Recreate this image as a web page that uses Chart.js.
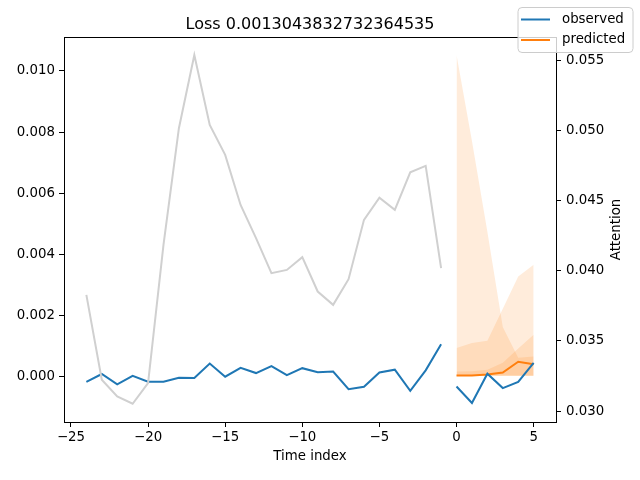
<!DOCTYPE html>
<html>
<head>
<meta charset="utf-8">
<script src="https://cdn.jsdelivr.net/npm/chart.js@4/dist/chart.umd.min.js"></script>
<style>
  html, body { margin: 0; padding: 0; background: #fff; }
  #wrap { width: 640px; height: 480px; }
</style>
</head>
<body>
<div id="wrap"><canvas id="grafica" width="640" height="480"></canvas></div>
<script>
// history window (encoder) and forecast window (decoder)
var timeHist = [-24, -23, -22, -21, -20, -19, -18, -17, -16, -15, -14, -13,
                -12, -11, -10, -9, -8, -7, -6, -5, -4, -3, -2, -1];
var timePred = [0, 1, 2, 3, 4, 5];

var observedHist = [-0.00017, 0.00009, -0.00025, 0.00003, -0.00016, -0.00016,
                    -0.00003, -0.00004, 0.00043, 0.00000, 0.00029, 0.00012,
                    0.00035, 0.00005, 0.00028, 0.00015, 0.00017, -0.00041,
                    -0.00033, 0.00014, 0.00023, -0.00046, 0.00021, 0.00106];
var observedPred = [-0.00032, -0.00086, 0.00010, -0.00037, -0.00017, 0.00045];
var predicted = [0.00004, 0.00004, 0.00007, 0.00014, 0.00049, 0.00041];

// quantile bands (low / high)
var q02 = [0.00003, 0.00003, 0.00003, 0.00003, 0.00003, 0.00003];
var q98 = [0.01052, 0.00771, 0.00474, 0.00163, 0.00062, 0.00066];
var q10 = [0.00003, 0.00003, 0.00003, 0.00003, 0.00003, 0.00003];
var q90 = [0.00094, 0.00110, 0.00118, 0.00222, 0.00328, 0.00366];
var q25 = [0.00003, 0.00003, 0.00003, 0.00003, 0.00003, 0.00003];
var q75 = [0.00017, 0.00018, 0.00023, 0.00046, 0.00092, 0.00137];

var attention = [0.03828, 0.03223, 0.03104, 0.03052, 0.03199, 0.04185,
                 0.05016, 0.05538, 0.05039, 0.04826, 0.04469, 0.04233,
                 0.03983, 0.04006, 0.04097, 0.03852, 0.03757, 0.03940,
                 0.04363, 0.04521, 0.04434, 0.04702, 0.04747, 0.04019];

var xTicks = [-25, -20, -15, -10, -5, 0, 5];
var yTicks = [0.000, 0.002, 0.004, 0.006, 0.008, 0.010];
var y1Ticks = [0.030, 0.035, 0.040, 0.045, 0.050, 0.055];

var titulo = 'Loss 0.0013043832732364535';
var legendLabels = ['observed', 'predicted'];

var AZUL = '#1f77b4';
var NARANJA = '#ff7f0e';
var BANDA = 'rgba(255,127,14,0.15)';
var FONT = 'DejaVu Sans';

var puntos = function (xs, ys) {
    return xs.map(function (x, i) { return {x: x, y: ys[i]}; });
};
var linea = function (label, data, color, eje) {
    return {
        label: label, data: data, borderColor: color, backgroundColor: color,
        borderWidth: 2, pointRadius: 0, fill: false, tension: 0, yAxisID: eje
    };
};
var banda = function (data, fill) {
    return {
        label: '', data: data, borderWidth: 0, borderColor: 'rgba(0,0,0,0)',
        backgroundColor: BANDA, pointRadius: 0, fill: fill, yAxisID: 'y'
    };
};
var fijarTicks = function (valores) {
    return function (scale) {
        scale.ticks = valores.map(function (v) { return {value: v}; });
    };
};
var menos = function (v) { return String(v).replace('-', '\u2212'); };

var extras = {
    id: 'extras',
    afterDraw: function (chart) {
        var ctx = chart.ctx;
        var a = chart.chartArea;
        ctx.save();
        // spines
        ctx.strokeStyle = '#000';
        ctx.lineWidth = 1;
        ctx.strokeRect(Math.round(a.left) + 0.5, Math.round(a.top) + 0.5,
                       Math.round(a.right - a.left), Math.round(a.bottom - a.top));
        // title
        ctx.fillStyle = '#000';
        ctx.font = '16px "' + FONT + '"';
        ctx.textAlign = 'center';
        ctx.textBaseline = 'alphabetic';
        ctx.fillText(titulo, (a.left + a.right) / 2, 29);
        // right axis label
        ctx.font = '13.33px "' + FONT + '"';
        ctx.translate(617, (a.top + a.bottom) / 2);
        ctx.rotate(-Math.PI / 2);
        ctx.textBaseline = 'middle';
        ctx.fillText('Attention', 0, 0);
        ctx.restore();

        // figure legend
        ctx.save();
        var lx = 518, ly = 7.5, lw = 115, lh = 45, r = 4;
        ctx.beginPath();
        ctx.moveTo(lx + r, ly);
        ctx.arcTo(lx + lw, ly, lx + lw, ly + lh, r);
        ctx.arcTo(lx + lw, ly + lh, lx, ly + lh, r);
        ctx.arcTo(lx, ly + lh, lx, ly, r);
        ctx.arcTo(lx, ly, lx + lw, ly, r);
        ctx.closePath();
        ctx.fillStyle = 'rgba(255,255,255,0.8)';
        ctx.fill();
        ctx.strokeStyle = '#cccccc';
        ctx.lineWidth = 1;
        ctx.stroke();
        var colores = [AZUL, NARANJA];
        ctx.font = '13.33px "' + FONT + '"';
        ctx.textAlign = 'left';
        ctx.textBaseline = 'middle';
        for (var i = 0; i < legendLabels.length; i++) {
            var yy = 19.5 + i * 20.5;
            ctx.strokeStyle = colores[i];
            ctx.lineWidth = 2;
            ctx.beginPath();
            ctx.moveTo(521, yy);
            ctx.lineTo(550, yy);
            ctx.stroke();
            ctx.fillStyle = '#000';
            ctx.fillText(legendLabels[i], 562, yy);
        }
        ctx.restore();
    }
};

var ejeBase = function (pos) {
    return {
        position: pos,
        grid: {drawOnChartArea: false, drawTicks: true, tickLength: 5, tickColor: '#000'},
        border: {display: true, color: '#000', width: 1},
        ticks: {color: '#000', font: {family: FONT, size: 13.33}}
    };
};

var ejeX = ejeBase('bottom');
ejeX.type = 'linear';
ejeX.min = -25.45;
ejeX.max = 6.45;
ejeX.afterBuildTicks = fijarTicks(xTicks);
ejeX.afterFit = function (scale) { scale.height = 58; };
ejeX.ticks.padding = 3;
ejeX.ticks.maxRotation = 0;
ejeX.ticks.autoSkip = false;
ejeX.ticks.callback = function (v) { return menos(v); };
ejeX.title = {display: true, text: 'Time index', color: '#000',
              font: {family: FONT, size: 13.33}, padding: {top: 0, bottom: 15}};

var ejeY = ejeBase('left');
ejeY.type = 'linear';
ejeY.min = -0.00148;
ejeY.max = 0.01111;
ejeY.afterBuildTicks = fijarTicks(yTicks);
ejeY.afterFit = function (scale) { scale.width = 64; };
ejeY.ticks.padding = 4;
ejeY.ticks.callback = function (v) { return menos(v.toFixed(3)); };

var ejeY1 = ejeBase('right');
ejeY1.type = 'linear';
ejeY1.min = 0.02922;
ejeY1.max = 0.05666;
ejeY1.afterBuildTicks = fijarTicks(y1Ticks);
ejeY1.afterFit = function (scale) { scale.width = 84; };
ejeY1.ticks.padding = 5;
ejeY1.ticks.callback = function (v) { return v.toFixed(3); };

var datos = {
    type: 'line',
    data: {
        datasets: [
            linea('attention', puntos(timeHist, attention), '#d0d0d0', 'y1'),
            linea(legendLabels[0], puntos(timeHist, observedHist), AZUL, 'y'),
            linea('', puntos(timePred, observedPred), AZUL, 'y'),
            linea(legendLabels[1], puntos(timePred, predicted), NARANJA, 'y'),
            banda(puntos(timePred, q02), false),
            banda(puntos(timePred, q98), '-1'),
            banda(puntos(timePred, q10), false),
            banda(puntos(timePred, q90), '-1'),
            banda(puntos(timePred, q25), false),
            banda(puntos(timePred, q75), '-1')
        ]
    },
    options: {
        responsive: false,
        animation: false,
        devicePixelRatio: 1,
        layout: {padding: {top: 37, left: 0, right: 0, bottom: 0}},
        plugins: {
            legend: {display: false},
            title: {display: false},
            tooltip: {enabled: false}
        },
        scales: {x: ejeX, y: ejeY, y1: ejeY1}
    },
    plugins: [extras]
};

var canvas = document.getElementById('grafica').getContext('2d');
var char = new Chart(canvas, datos);
</script>
</body>
</html>
